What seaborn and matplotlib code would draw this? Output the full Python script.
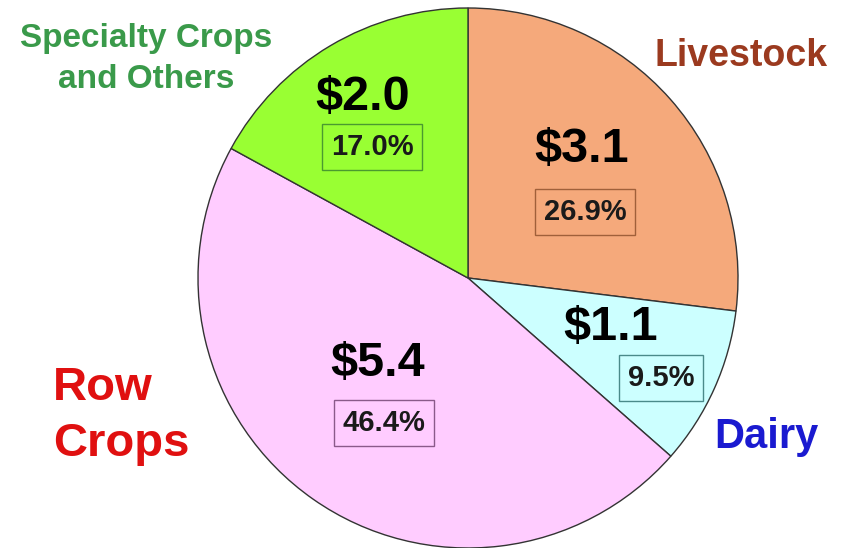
import matplotlib
matplotlib.use("Agg")
import matplotlib.pyplot as plt
import seaborn as sns

# Data (billions of dollars and share of total)
categories = ["Livestock", "Dairy", "Row Crops", "Specialty Crops and Others"]
dollars = ["$3.1", "$1.1", "$5.4", "$2.0"]
shares = [26.9, 9.5, 46.4, 17.0]
slice_colors = ["#F5A97B", "#CCFFFF", "#FFCCFF", "#99FF33"]
box_colors = ["#A0603A", "#4A8A8A", "#8A5A8A", "#4A9A30"]
label_colors = ["#9B3A1F", "#1A1AD0", "#E01010", "#3A9A4A"]
label_texts = ["Livestock", "Dairy", "Row\nCrops", "Specialty Crops\nand Others"]

sns.set_theme(style="white")
plt.rcParams["font.family"] = ["Liberation Sans", "DejaVu Sans"]

W, H = 848, 548
fig = plt.figure(figsize=(W / 100, H / 100), dpi=100)
ax = fig.add_axes([0, 0, 1, 1])

ax.pie(
    shares,
    colors=slice_colors,
    startangle=90,
    counterclock=False,
    center=(468, H - 278),
    radius=270,
    wedgeprops=dict(edgecolor="#333333", linewidth=1.0),
)
ax.set_xlim(0, W)
ax.set_ylim(0, H)
ax.set_aspect("equal")
ax.axis("off")

# value / percent positions inside slices (pixel coords, y from top)
value_pos = [(582, 150), (611, 327), (378, 364), (363, 98)]
pct_pos = [(585, 212), (661, 378), (384, 423), (372, 147)]
label_pos = [(741, 56), (766, 437), (53, 416), (146, 59)]
label_ha = ["center", "center", "left", "center"]
label_size = [27, 30, 34, 24]
label_spacing = [1.15, 1.15, 1.35, 1.4]

for i in range(len(categories)):
    vx, vy = value_pos[i]
    ax.text(vx, H - vy, dollars[i], ha="center", va="center",
            fontsize=35, fontweight="bold", color="black")
    px, py = pct_pos[i]
    ax.text(px, H - py, f"{shares[i]:.1f}%", ha="center", va="center",
            fontsize=21, fontweight="bold", color="#1a1a1a",
            bbox=dict(boxstyle="square,pad=0.3", facecolor="none",
                      edgecolor=box_colors[i], linewidth=1.0))
    lx, ly = label_pos[i]
    ax.text(lx, H - ly, label_texts[i], ha=label_ha[i], va="center",
            fontsize=label_size[i], fontweight="bold", color=label_colors[i],
            linespacing=label_spacing[i],
            multialignment="center" if label_ha[i] == "center" else "left")

fig.savefig("out.png", dpi=100, facecolor="white")
